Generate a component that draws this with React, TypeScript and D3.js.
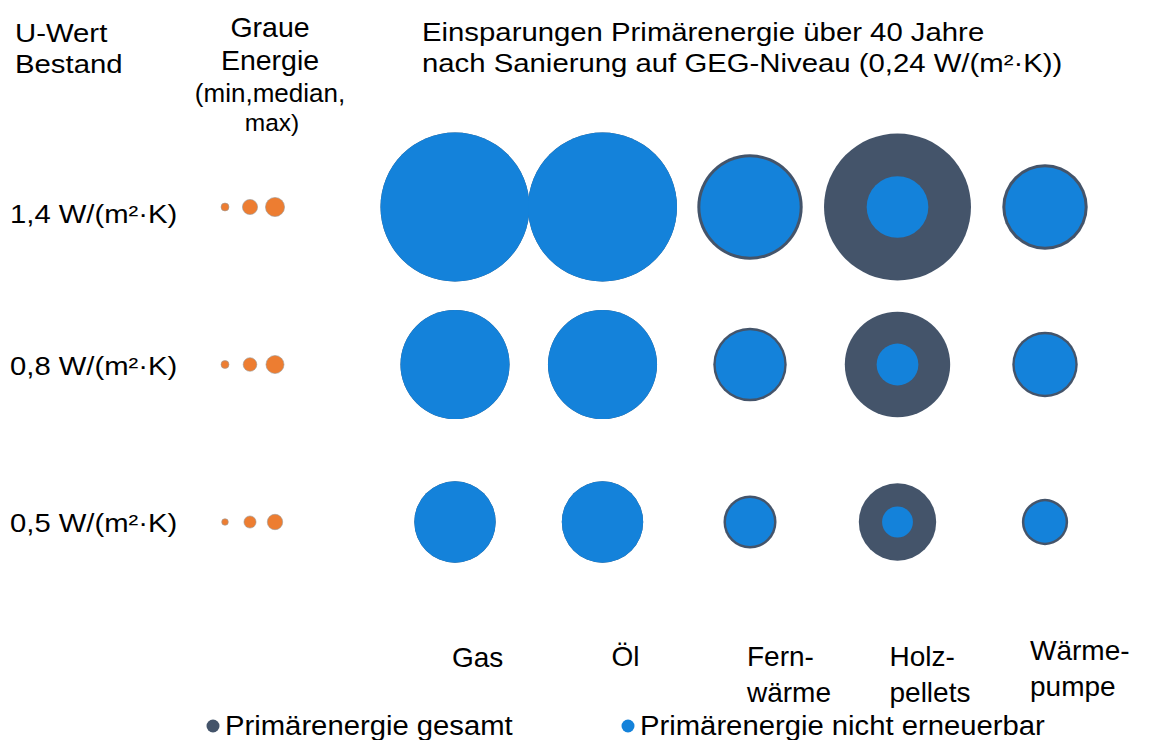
import { useEffect, useRef } from 'react';
import * as d3 from 'd3';

// rows: U-value of the existing wall
const rows = ['1,4 W/(m²·K)', '0,8 W/(m²·K)', '0,5 W/(m²·K)'];
// heating systems
const systems = ['Gas', 'Öl', 'Fernwärme', 'Holzpellets', 'Wärmepumpe'];
const systemLabels = [['Gas'], ['Öl'], ['Fern-', 'wärme'], ['Holz-', 'pellets'], ['Wärme-', 'pumpe']];

// primary energy savings over 40 years (kWh/m²), one array per row, order = systems
const totalSavings = [
  [5600, 5600, 2800, 5450, 1840],
  [3000, 3000, 1360, 2800, 1080],
  [1670, 1670, 710, 1510, 540],
];
const nonRenewableSavings = [
  [5600, 5600, 2490, 960, 1590],
  [3000, 3000, 1190, 440, 930],
  [1670, 1670, 585, 240, 430],
];

// grey energy of the insulation (min, median, max), kWh/m²
const greyKeys = ['min', 'median', 'max'];
const greyEnergy = [
  [16, 58, 92],
  [16, 47, 82],
  [11, 37, 60],
];

const COL_TOTAL = '#44546A';
const COL_NONREN = '#1482DA';
const COL_GREY = '#ED7D31';

const App = () => {
  const svgRef = useRef<SVGSVGElement>(null);

  useEffect(() => {
    if (!svgRef.current) return;
    const svg = d3.select(svgRef.current);
    svg.selectAll('*').remove();

    const font = "'Liberation Sans', Arial, sans-serif";

    const x = d3.scalePoint<string>().domain(systems).range([455, 1045]);
    const y = d3.scalePoint<string>().domain(rows).range([207, 522]);
    const r = d3.scaleSqrt().domain([0, 5600]).range([0, 74.5]);
    const xg = d3.scalePoint<string>().domain(greyKeys).range([225, 275]);

    const addText = (
      tx: number, ty: number, txt: string, size: number,
      anchor: string = 'start', scale: number = 1
    ) => {
      svg.append('text')
        .attr('transform', `translate(${tx},${ty}) scale(${scale},1)`)
        .attr('text-anchor', anchor)
        .attr('font-family', font)
        .attr('font-size', size)
        .attr('fill', '#000')
        .text(txt);
    };

    // headers (left + title text boxes are drawn a bit wide in the source)
    addText(15, 42, 'U-Wert', 25.5, 'start', 1.15);
    addText(15, 73, 'Bestand', 25.5, 'start', 1.15);
    addText(270, 37, 'Graue', 28.5, 'middle');
    addText(270, 70, 'Energie', 28.5, 'middle');
    addText(270, 102, '(min,median,', 26, 'middle');
    addText(272, 131, 'max)', 24.5, 'middle');
    addText(422, 41, 'Einsparungen Primärenergie über 40 Jahre', 25.5, 'start', 1.15);
    addText(422, 72, 'nach Sanierung auf GEG-Niveau (0,24 W/(m²·K))', 25.5, 'start', 1.15);

    // row labels
    const rowDy = [16, 10, 10];
    rows.forEach((row, i) => addText(10, (y(row) || 0) + rowDy[i], row, 25, 'start', 1.17));

    // bubbles
    rows.forEach((row, i) => {
      const cy = y(row) || 0;
      const g = svg.append('g');
      const data = systems.map((s, j) => ({
        s, total: totalSavings[i][j], nonren: nonRenewableSavings[i][j],
      }));
      g.selectAll('.total')
        .data(data)
        .enter()
        .append('circle')
        .attr('class', 'total')
        .attr('cx', d => x(d.s) || 0)
        .attr('cy', cy)
        .attr('r', d => r(d.total))
        .attr('fill', COL_TOTAL);
      g.selectAll('.nonren')
        .data(data)
        .enter()
        .append('circle')
        .attr('class', 'nonren')
        .attr('cx', d => x(d.s) || 0)
        .attr('cy', cy)
        .attr('r', d => r(d.nonren))
        .attr('fill', COL_NONREN);

      g.selectAll('.grey')
        .data(greyKeys.map((k, j) => ({ k, v: greyEnergy[i][j] })))
        .enter()
        .append('circle')
        .attr('class', 'grey')
        .attr('cx', d => xg(d.k) || 0)
        .attr('cy', cy)
        .attr('r', d => r(d.v))
        .attr('fill', COL_GREY)
        .attr('stroke', '#9a9a9a')
        .attr('stroke-width', 0.6);
    });

    // category labels: left-aligned text boxes near each column
    const labelDx = [-3, 9, -3, -8, -15];
    const labelBase = [667, 666, 666, 666, 660];
    systems.forEach((s, j) => {
      systemLabels[j].forEach((line, k) => {
        addText((x(s) || 0) + labelDx[j], labelBase[j] + k * 36, line, 28);
      });
    });

    // legend
    const legend = [
      { label: 'Primärenergie gesamt', color: COL_TOTAL, lx: 213 },
      { label: 'Primärenergie nicht erneuerbar', color: COL_NONREN, lx: 628 },
    ];
    legend.forEach(l => {
      svg.append('circle').attr('cx', l.lx).attr('cy', 726).attr('r', 6.5).attr('fill', l.color);
      addText(l.lx + 12, 735, l.label, 28, 'start', 1.045);
    });
  }, []);

  return (
    <svg
      ref={svgRef}
      width={1149}
      height={740}
      style={{ position: 'absolute', left: 0, top: 0, background: '#fff' }}
    />
  );
};

export default App;
